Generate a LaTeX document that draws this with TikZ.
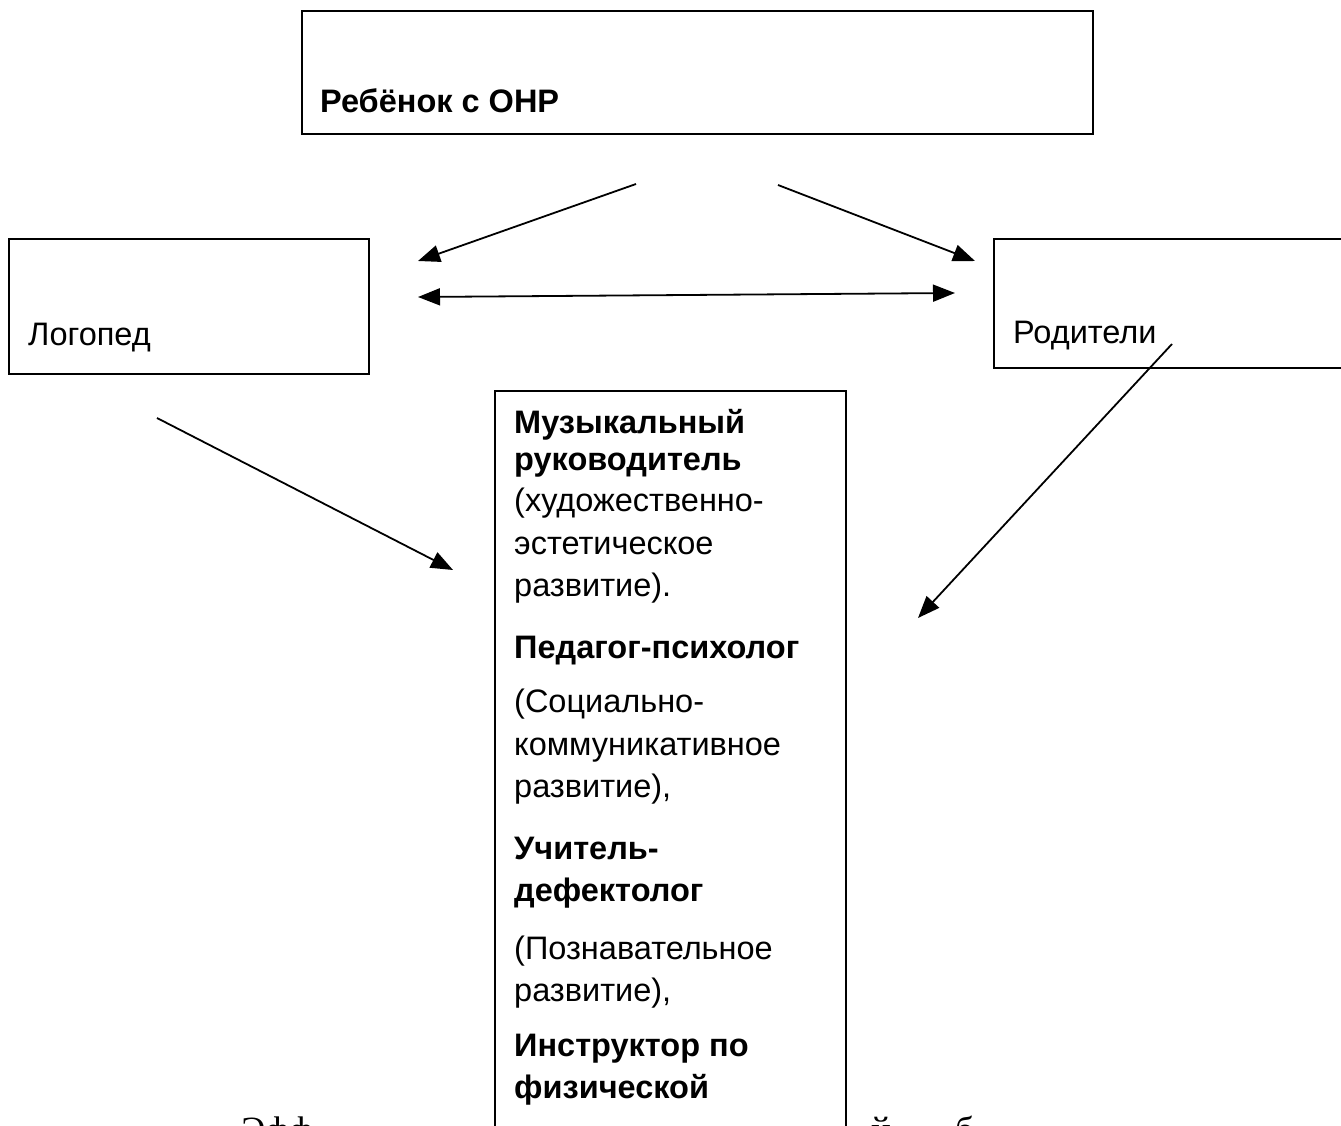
\documentclass[tikz,border=0pt]{standalone}
\usepackage{fontspec}
\setmainfont{Liberation Sans}
\newfontfamily\bodyserif{Liberation Serif}
\usetikzlibrary{arrows.meta}

\begin{document}
\begin{tikzpicture}[x=1pt, y=-1pt,
    box/.style={draw, line width=1.8pt, fill=white, inner sep=0pt, anchor=north west},
    txt/.style={anchor=base west, inner sep=0pt, font=\fontsize{32.5}{38}\selectfont},
    btxt/.style={txt, font=\fontsize{32.5}{38}\selectfont\bfseries},
    arr/.style={-{Triangle[length=22pt, width=17pt]}, line width=1.8pt},
    arrboth/.style={{Triangle[length=22pt, width=17pt]}-{Triangle[length=22pt, width=17pt]}, line width=1.8pt}]
    \useasboundingbox (0,0) rectangle (1341,1126);
    \clip (0,0) rectangle (1341,1126);

    % Text of the page under the scheme
    \node[anchor=base west, inner sep=0pt, font=\bodyserif\fontsize{37}{44}\selectfont] (eff) at (241,1142) {Эфф};
    \node[anchor=base west, inner sep=0pt, font=\bodyserif\fontsize{37}{44}\selectfont] (yot) at (871,1142) {й};
    \node[anchor=base west, inner sep=0pt, font=\bodyserif\fontsize{37}{44}\selectfont] (be) at (955,1142) {б};

    % Boxes
    \node[box, minimum width=791pt, minimum height=123pt] (child) at (301,10) {};
    \node[box, minimum width=360pt, minimum height=135pt] (logo) at (8,238) {};
    \node[box, minimum width=400pt, minimum height=129pt] (par) at (993,238) {};
    \node[box, minimum width=351pt, minimum height=800pt] (team) at (494,390) {};

    \node[btxt] (childtxt) at (320,113) {Ребёнок с ОНР};
    \node[txt] (logotxt) at (28,345) {Логопед};
    \node[txt] (partxt) at (1013,343) {Родители};

    % Specialists
    \foreach \y/\t in {433/Музыкальный, 470/руководитель, 658/Педагог-психолог, 859/Учитель-, 901/дефектолог, 1056/Инструктор по, 1098/физической} {
        \node[btxt] (b\y) at (514,\y) {\t};
    }
    \foreach \y/\t in {511/(художественно-, 554/эстетическое, 596/{развитие).}, 712/(Социально-, 755/коммуникативное, 797/{развитие),}, 959/(Познавательное, 1001/{развитие),}} {
        \node[txt] (r\y) at (514,\y) {\t};
    }

    % Arrow ends
    \coordinate (c1) at (636,184);
    \coordinate (c2) at (778,185);
    \coordinate (l1) at (418,261);
    \coordinate (r1) at (975,261);
    \coordinate (l2) at (418,297);
    \coordinate (r2) at (955,293);
    \coordinate (l3) at (157,418);
    \coordinate (m1) at (453,570);
    \coordinate (r3) at (1172,344);
    \coordinate (m2) at (918,618);

    % Connections
    \draw[arr] (c1) -- (l1);
    \draw[arr] (c2) -- (r1);
    \draw[arrboth] (l2) -- (r2);
    \draw[arr] (l3) -- (m1);
    \draw[arr] (r3) -- (m2);
\end{tikzpicture}
\end{document}
